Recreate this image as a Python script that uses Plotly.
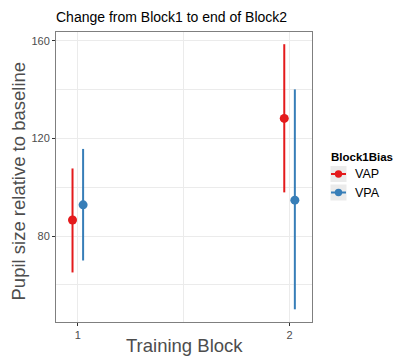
import plotly.graph_objects as go

blocks = [1, 2]
tick_labels = ["1", "2"]
groups = ["VAP", "VPA"]
colors = {"VAP": "#E41A1C", "VPA": "#377EB8"}
dodge = {"VAP": -0.025, "VPA": 0.025}

vap_mean = [86.6, 128.2]
vap_low = [65.1, 97.9]
vap_high = [107.7, 158.6]

vpa_mean = [92.8, 94.7]
vpa_low = [70.0, 50.0]
vpa_high = [115.7, 140.1]

data = {
    "VAP": (vap_mean, vap_low, vap_high),
    "VPA": (vpa_mean, vpa_low, vpa_high),
}

W, H = 394, 356
L, R, T, B = 56, 82, 32, 34
PW, PH = W - L - R, H - T - B


def px(x):
    return (x - L) / PW


def py(y):
    return 1 - (y - T) / PH


fig = go.Figure()
for g in groups:
    m, lo, hi = data[g]
    xs, ys, ep, em = [], [], [], []
    for i, b in enumerate(blocks):
        xs.append(b + dodge[g]); ys.append(m[i])
        ep.append(hi[i] - m[i]); em.append(m[i] - lo[i])
    fig.add_trace(go.Scatter(
        x=xs, y=ys, name=g, mode="markers", showlegend=False,
        marker=dict(color=colors[g], size=9),
        error_y=dict(type="data", array=ep, arrayminus=em, symmetric=False,
                     width=0, thickness=2, color=colors[g]),
    ))

# manual ggplot-style legend
shapes = []
annotations = [
    dict(text="<b>Block1Bias</b>", xref="paper", yref="paper", x=px(329), y=py(156.5),
         xanchor="left", yanchor="middle", showarrow=False,
         font=dict(size=11.5, color="black")),
]
key_top = 166
for k, g in enumerate(groups):
    y0 = key_top + k * 18.5
    yc = y0 + 8
    shapes.append(dict(type="rect", xref="paper", yref="paper",
                       x0=px(330.5), x1=px(346.5), y0=py(y0), y1=py(y0 + 16),
                       fillcolor="#EBEBEB", line=dict(width=0), layer="above"))
    shapes.append(dict(type="line", xref="paper", yref="paper",
                       x0=px(331), x1=px(346), y0=py(yc), y1=py(yc),
                       line=dict(color=colors[g], width=2), layer="above"))
    shapes.append(dict(type="circle", xref="paper", yref="paper",
                       x0=px(334.8), x1=px(342.2), y0=py(yc - 3.7), y1=py(yc + 3.7),
                       fillcolor=colors[g], line=dict(width=0), layer="above"))
    annotations.append(dict(text=g, xref="paper", yref="paper", x=px(353), y=py(yc),
                            xanchor="left", yanchor="middle", showarrow=False,
                            font=dict(size=12.5, color="black")))

# axis titles
annotations.append(dict(text="Training Block", xref="paper", yref="paper",
                        x=px(184), y=py(345), xanchor="center", yanchor="middle",
                        showarrow=False, font=dict(size=18.5, color="#4D4D4D")))
annotations.append(dict(text="Pupil size relative to baseline", xref="paper", yref="paper",
                        x=px(18), y=py(181.5), xanchor="center", yanchor="middle",
                        textangle=-90, showarrow=False,
                        font=dict(size=18.5, color="#4D4D4D")))

grid = "#EBEBEB"
fig.update_layout(
    width=W, height=H,
    margin=dict(l=L, r=R, t=T, b=B, autoexpand=False),
    paper_bgcolor="white", plot_bgcolor="white",
    font=dict(family="Liberation Sans, Arial, sans-serif", color="#4D4D4D", size=11),
    title=dict(text="Change from Block1 to end of Block2", x=56/W, xanchor="left",
               y=1-17/H, yanchor="middle",
               font=dict(size=14, color="black")),
    showlegend=False,
    shapes=shapes,
    annotations=annotations,
    xaxis=dict(
        range=[0.897, 2.106], tickvals=blocks, ticktext=tick_labels,
        showgrid=True, gridcolor=grid, gridwidth=1,
        minor=dict(tickvals=[1.5], showgrid=True, gridcolor=grid, gridwidth=0.6),
        zeroline=False, showline=True, linecolor="#7F7F7F", mirror=True, linewidth=1,
        ticks="outside", ticklen=3, tickcolor="#333333",
        tickfont=dict(size=11, color="#4D4D4D"), automargin=False,
    ),
    yaxis=dict(
        range=[44.8, 163.6], tickvals=[80, 120, 160],
        showgrid=True, gridcolor=grid, gridwidth=1,
        minor=dict(tickvals=[60, 100, 140], showgrid=True, gridcolor=grid, gridwidth=0.6),
        zeroline=False, showline=True, linecolor="#7F7F7F", mirror=True, linewidth=1,
        ticks="outside", ticklen=3, tickcolor="#333333",
        tickfont=dict(size=11, color="#4D4D4D"), automargin=False,
    ),
)

fig.write_html("out.html", config={"displayModeBar": False},
               post_script="document.body.style.margin='0';document.body.style.overflow='hidden';")
